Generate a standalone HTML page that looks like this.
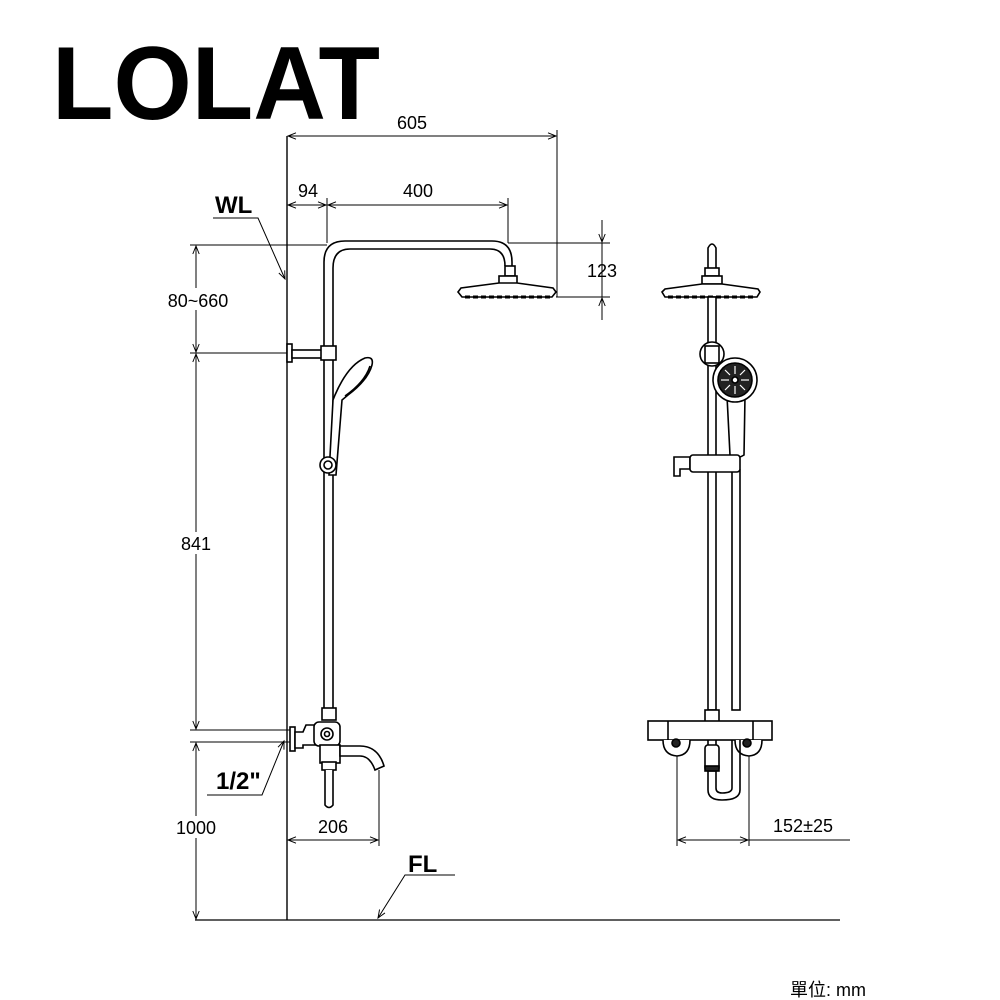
<!DOCTYPE html>
<html><head><meta charset="utf-8"><style>
html,body{margin:0;padding:0;background:#fff;}
svg{display:block}
.t{font-family:"Liberation Sans","DejaVu Sans",sans-serif;}
</style></head><body>
<svg width="1000" height="1000" viewBox="0 0 1000 1000" xmlns="http://www.w3.org/2000/svg">
<defs>
<marker id="a" viewBox="0 0 10 10" refX="10" refY="5" markerWidth="12" markerHeight="8" orient="auto-start-reverse" markerUnits="userSpaceOnUse">
<path d="M0,1 L10,5 L0,9" fill="none" stroke="#000" stroke-width="1.2"/></marker>
</defs>
<text x="52" y="119" class="t" font-size="104" font-weight="bold" textLength="328" lengthAdjust="spacingAndGlyphs">LOLAT</text>

<g stroke="#000" stroke-width="1" fill="none">
<!-- wall & floor -->
<line x1="287" y1="136" x2="287" y2="920" stroke-width="1.4"/>
<line x1="195" y1="920" x2="840" y2="920" stroke-width="1.2"/>
<!-- 605 -->
<line x1="557" y1="130" x2="557" y2="297"/>
<line x1="288" y1="136" x2="556" y2="136" marker-start="url(#a)" marker-end="url(#a)"/>
<!-- 94 / 400 -->
<line x1="327" y1="198" x2="327" y2="243"/>
<line x1="508" y1="198" x2="508" y2="243"/>
<line x1="288" y1="205" x2="326" y2="205" marker-start="url(#a)" marker-end="url(#a)"/>
<line x1="328" y1="205" x2="507" y2="205" marker-start="url(#a)" marker-end="url(#a)"/>
<!-- 123 -->
<line x1="508" y1="243" x2="610" y2="243"/>
<line x1="556" y1="297" x2="610" y2="297"/>
<line x1="602" y1="220" x2="602" y2="242" marker-end="url(#a)"/>
<line x1="602" y1="320" x2="602" y2="298" marker-end="url(#a)"/>
<line x1="602" y1="243" x2="602" y2="297"/>
<!-- left dims -->
<line x1="190" y1="245" x2="327" y2="245"/>
<line x1="190" y1="353" x2="290" y2="353"/>
<line x1="190" y1="730" x2="290" y2="730"/>
<line x1="190" y1="742" x2="290" y2="742"/>
<line x1="196" y1="246" x2="196" y2="352" marker-start="url(#a)" marker-end="url(#a)"/>
<line x1="196" y1="354" x2="196" y2="729" marker-start="url(#a)" marker-end="url(#a)"/>
<line x1="196" y1="743" x2="196" y2="919" marker-start="url(#a)" marker-end="url(#a)"/>
<!-- 206 -->
<line x1="379" y1="770" x2="379" y2="846"/>
<line x1="288" y1="840" x2="378" y2="840" marker-start="url(#a)" marker-end="url(#a)"/>
<!-- 152 -->
<line x1="677" y1="748" x2="677" y2="846"/>
<line x1="749" y1="748" x2="749" y2="846"/>
<line x1="678" y1="840" x2="748" y2="840" marker-start="url(#a)" marker-end="url(#a)"/>
<line x1="749" y1="840" x2="850" y2="840"/>
<!-- leaders -->
<polyline points="213,218 258,218 285,279" marker-end="url(#a)"/>
<polyline points="207,795 262,795 284,741" marker-end="url(#a)"/>
<polyline points="455,875 405,875 378,918" marker-end="url(#a)"/>
</g>
<g fill="#fff"><rect x="170" y="288" width="60" height="22"/><rect x="180" y="532" width="32" height="22"/><rect x="172" y="816" width="48" height="22"/></g>
<g class="t" font-size="18" text-anchor="middle" fill="#000">
<text x="412" y="129">605</text>
<text x="308" y="197">94</text>
<text x="418" y="197">400</text>
<text x="602" y="277">123</text>
<text x="198" y="307">80~660</text>
<text x="196" y="550">841</text>
<text x="196" y="834">1000</text>
<text x="333" y="833">206</text>
<text x="803" y="832">152±25</text>
</g>
<g class="t" font-size="24" font-weight="bold" fill="#000">
<text x="215" y="213">WL</text>
<text x="216" y="789">1/2"</text>
<text x="408" y="872">FL</text>
</g>
<text x="790" y="996" class="t" font-size="18" fill="#000" font-family="'Liberation Sans','Noto Sans CJK TC',sans-serif">單位: mm</text>

<!-- LEFT shower -->
<g stroke="#000" stroke-width="1.6" fill="#fff">
<path d="M324,708 V262 Q324,241 345,241 H492 Q512,241 512,262 V266" fill="none"/>
<path d="M333,708 V268 Q333,249 350,249 H490 Q505,249 505,266" fill="none"/>
<rect x="505" y="266" width="10" height="10"/>
<rect x="499" y="276" width="18" height="8"/>
<path d="M458,292 L461,288 L499,283 L517,283 L553,288 L556,292 L552,297 L462,297 Z"/>
<path d="M465,297 H550" stroke-width="3" stroke-dasharray="5,3"/>
<rect x="287" y="344" width="5" height="18"/>
<rect x="292" y="350" width="30" height="8"/>
<rect x="321" y="346" width="15" height="14"/>
<path d="M335,395 Q348,365 365,358 Q374,356 372,365 Q368,380 348,395 L342,400 L336,475 L329,475 L333,400 Z"/>
<path d="M345,396 Q365,382 370,366" fill="none"/>
<circle cx="328" cy="465" r="8"/><circle cx="328" cy="465" r="4"/>
<!-- bottom -->
<rect x="322" y="708" width="14" height="12"/>
<rect x="290" y="727" width="5" height="24"/>
<path d="M295,732 H303 L306,725 H318 V745 H303 V748 H295 Z"/>
<rect x="314" y="722" width="26" height="24" rx="5"/>
<circle cx="327" cy="734" r="6"/><circle cx="327" cy="734" r="2.5"/>
<rect x="320" y="745" width="20" height="18"/>
<path d="M340,746 H360 Q378,746 384,766 L375,770 Q370,756 360,756 H340 Z"/>
<rect x="322" y="762" width="14" height="8"/>
<path d="M325,770 V805 Q329,810 333,805 V770" />
</g>

<!-- RIGHT view -->
<g stroke="#000" stroke-width="1.6" fill="#fff">
<path d="M708,275 V248 Q712,240 716,248 V275 Z"/>
<rect x="705" y="268" width="14" height="8"/>
<rect x="702" y="276" width="20" height="8"/>
<path d="M662,292 L665,289 L702,284 L722,284 L758,289 L760,292 L757,297 L665,297 Z"/>
<path d="M668,297 H755" stroke-width="3" stroke-dasharray="5,3"/>
<rect x="708" y="297" width="8" height="413"/>
<circle cx="712" cy="354" r="12"/>
<rect x="705" y="346" width="14" height="17"/>
<rect x="732" y="470" width="8" height="240"/>
<path d="M727,396 H745 L744,455 Q736,460 730,455 Z"/>
<circle cx="735" cy="380" r="22"/>
<circle cx="735" cy="380" r="17" fill="#222"/>
<circle cx="735" cy="380" r="3" fill="#fff"/>
<g stroke="#fff" stroke-width="1.2"><line x1="735" y1="366" x2="735" y2="374"/><line x1="735" y1="386" x2="735" y2="394"/><line x1="721" y1="380" x2="729" y2="380"/><line x1="741" y1="380" x2="749" y2="380"/><line x1="725" y1="370" x2="730" y2="375"/><line x1="740" y1="385" x2="745" y2="390"/><line x1="745" y1="370" x2="740" y2="375"/><line x1="725" y1="390" x2="730" y2="385"/></g>
<path d="M674,457 H690 V469 H680 V476 H674 Z"/>
<rect x="690" y="455" width="50" height="17" rx="3"/>
<rect x="705" y="710" width="14" height="12"/>
<rect x="648" y="721" width="124" height="19"/>
<line x1="668" y1="721" x2="668" y2="740"/><line x1="753" y1="721" x2="753" y2="740"/>
<path d="M663,740 Q663,755 677,756 Q690,755 690,740"/>
<path d="M735,740 Q735,755 749,756 Q762,755 762,740"/>
<circle cx="676" cy="743" r="4" fill="#222"/><circle cx="747" cy="743" r="4" fill="#222"/>
<path d="M708,740 V790 Q708,800 722,800 Q740,800 740,790 V740" fill="none"/>
<path d="M716,740 V788 Q716,793 722,793 Q732,793 732,788 V740" fill="none"/>
<rect x="705" y="745" width="14" height="26" rx="3"/>
<rect x="705" y="766" width="14" height="5" fill="#222"/>
</g>
</svg>
</body></html>
